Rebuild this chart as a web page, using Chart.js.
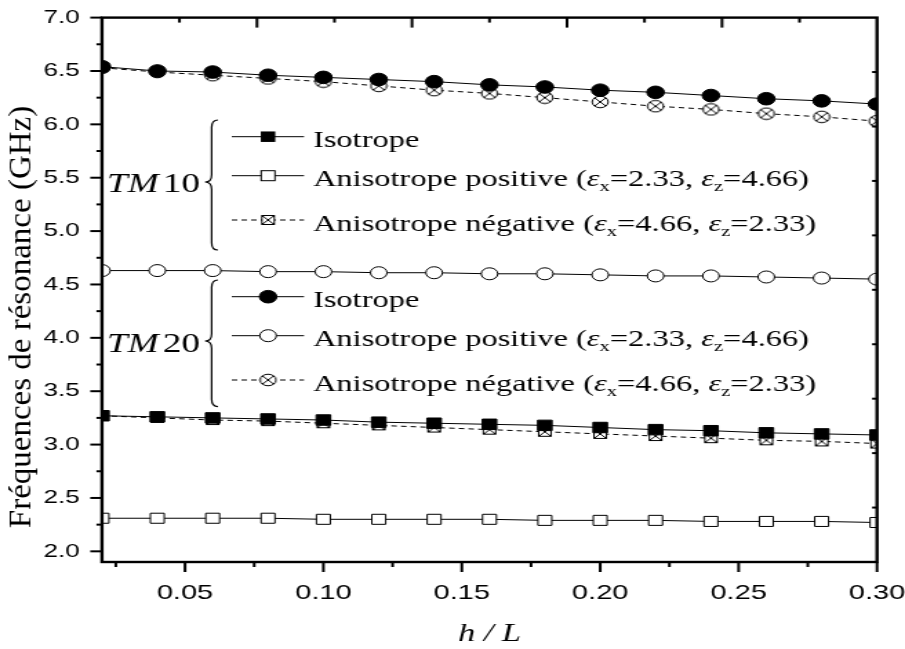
<!DOCTYPE html>
<html><head><meta charset="utf-8">
<script src="https://cdn.jsdelivr.net/npm/chart.js@4/dist/chart.umd.min.js"></script>
<style>
html,body{margin:0;padding:0;overflow:hidden;background:#fff}
#wrap{width:905px;height:649px;overflow:hidden}
canvas{display:block;transform:scaleX(1.3796);transform-origin:0 0}
</style>
</head><body><div id="wrap"><canvas id="c" width="656" height="649"></canvas></div>
<script>
// ---- data ----
const hOverL = [0.02,0.04,0.06,0.08,0.10,0.12,0.14,0.16,0.18,0.20,0.22,0.24,0.26,0.28,0.30];
const tm10Iso = [3.27,3.26,3.25,3.24,3.23,3.21,3.20,3.19,3.18,3.16,3.14,3.13,3.11,3.10,3.09];
const tm10Pos = [2.31,2.31,2.31,2.31,2.30,2.30,2.30,2.30,2.29,2.29,2.29,2.28,2.28,2.28,2.27];
const tm10Neg = [3.27,3.25,3.23,3.22,3.20,3.18,3.16,3.14,3.12,3.10,3.08,3.06,3.04,3.03,3.01];
const tm20Iso = [6.54,6.50,6.49,6.46,6.44,6.42,6.40,6.37,6.35,6.32,6.30,6.27,6.24,6.22,6.19];
const tm20Pos = [4.63,4.63,4.63,4.62,4.62,4.61,4.61,4.60,4.60,4.59,4.58,4.58,4.57,4.56,4.55];
const tm20Neg = [6.53,6.49,6.46,6.43,6.40,6.36,6.32,6.29,6.25,6.21,6.17,6.14,6.10,6.07,6.03];
const xTickValues = [0.05,0.10,0.15,0.20,0.25,0.30];
const xMinorValues = [0.025,0.075,0.125,0.175,0.225,0.275];
const yTickValues = [2.0,2.5,3.0,3.5,4.0,4.5,5.0,5.5,6.0,6.5,7.0];
const yMinorValues = [2.25,2.75,3.25,3.75,4.25,4.75,5.25,5.75,6.25,6.75];
const modeNames = ['10','20'];
const seriesNames = ['Isotrope','Anisotrope positive','Anisotrope négative'];
const posEps = ['2.33','4.66'];
const negEps = ['4.66','2.33'];
const yTitle = 'Fréquences de résonance (GHz)';
const xTitle = 'h / L';

const S = 1.3796;
const SERIF = "'Liberation Serif', 'Times New Roman', serif";
const SANS = "'Liberation Sans', Arial, sans-serif";

// ---- marker images ----
function crossSquare(){
  const c=document.createElement('canvas'); c.width=12; c.height=12;
  const g=c.getContext('2d'); g.fillStyle='#fff'; g.fillRect(1,1,10,10);
  g.strokeStyle='#000'; g.lineWidth=1; g.strokeRect(1.5,1.5,9,9);
  g.beginPath(); g.moveTo(1.5,1.5); g.lineTo(10.5,10.5); g.moveTo(10.5,1.5); g.lineTo(1.5,10.5); g.stroke();
  return c;
}
function crossCircle(){
  const c=document.createElement('canvas'); c.width=14; c.height=14;
  const g=c.getContext('2d'); g.fillStyle='#fff'; g.strokeStyle='#000'; g.lineWidth=1;
  g.beginPath(); g.arc(7,7,5.8,0,Math.PI*2); g.fill(); g.stroke();
  const d=5.8*0.7071;
  g.beginPath(); g.moveTo(7-d,7-d); g.lineTo(7+d,7+d); g.moveTo(7+d,7-d); g.lineTo(7-d,7+d); g.stroke();
  return c;
}
const xSq = crossSquare(), xCi = crossCircle();

function pts(arr){ return hOverL.map((x,i)=>({x:x,y:arr[i]})); }
function ds(label,arr,style,fill,radius,dashed){
  return {label:label,data:pts(arr),borderColor:'#000',borderWidth:1,borderDash:dashed?[4,3]:[],
    pointStyle:style,pointRadius:radius,pointBackgroundColor:fill,pointBorderColor:'#000',pointBorderWidth:1,
    showLine:true,fill:false,tension:0,clip:0};
}
const datasets = [
  ds('TM20 '+seriesNames[0],tm20Iso,'circle','#000',6.3,false),
  ds('TM10 '+seriesNames[0],tm10Iso,'rect','#000',7.4,false),
  ds('TM20 '+seriesNames[1],tm20Pos,'circle','#fff',6,false),
  ds('TM10 '+seriesNames[1],tm10Pos,'rect','#fff',7.1,false),
  ds('TM20 '+seriesNames[2],tm20Neg,xCi,'#fff',6,true),
  ds('TM10 '+seriesNames[2],tm10Neg,xSq,'#fff',6,true)
];

function line(ctx,x1,y1,x2,y2){ctx.beginPath();ctx.moveTo(x1,y1);ctx.lineTo(x2,y2);ctx.stroke();}

const framePlugin = {
  id:'frame',
  afterDatasetsDraw(chart){
    const {ctx,chartArea:a,scales:{x,y}} = chart;
    ctx.save(); ctx.strokeStyle='#000'; ctx.lineWidth=2;
    xTickValues.forEach(v=>{const p=x.getPixelForValue(v); line(ctx,p,a.bottom,p,a.bottom+10);});
    xMinorValues.forEach(v=>{const p=x.getPixelForValue(v); line(ctx,p,a.bottom,p,a.bottom+5);});
    yTickValues.forEach(v=>{const p=y.getPixelForValue(v); line(ctx,a.left-8.5,p,a.left,p);});
    yMinorValues.forEach(v=>{const p=y.getPixelForValue(v); line(ctx,a.left-4,p,a.left,p);});
    for(let i=1;i<10;i++){const p=a.left+i*a.width/10; line(ctx,p,a.top,p,a.top+(i%2===0?10:5));}
    for(let i=1;i<10;i++){const p=a.top+i*a.height/10; line(ctx,a.right-3.6,p,a.right,p);}
    ctx.lineWidth=2.4; ctx.strokeRect(a.left,a.top,a.width,a.height);
    ctx.restore();
  }
};

function drawMarker(ctx,kind,x,y){
  ctx.save(); ctx.lineWidth=1; ctx.strokeStyle='#000';
  if(kind==='fsq'){ctx.fillStyle='#000';ctx.fillRect(x-5.25,y-5.25,10.5,10.5);}
  else if(kind==='osq'){ctx.fillStyle='#fff';ctx.fillRect(x-5,y-5,10,10);ctx.strokeRect(x-5,y-5,10,10);}
  else if(kind==='xsq'){ctx.drawImage(xSq,x-6,y-6);}
  else if(kind==='fci'){ctx.fillStyle='#000';ctx.beginPath();ctx.arc(x,y,6.3,0,Math.PI*2);ctx.fill();ctx.stroke();}
  else if(kind==='oci'){ctx.fillStyle='#fff';ctx.beginPath();ctx.arc(x,y,6,0,Math.PI*2);ctx.fill();ctx.stroke();}
  else if(kind==='xci'){ctx.drawImage(xCi,x-7,y-7);}
  ctx.restore();
}
function drawRich(ctx,x,y,parts){
  parts.forEach(p=>{
    const size=p.sub?15:23.5;
    ctx.font=(p.it?'italic ':'')+size+'px '+SERIF;
    ctx.fillText(p.t,x,y+(p.sub?5:0));
    x+=ctx.measureText(p.t).width;
  });
}
function brace(ctx,xTip,xMid,xEnd,top,bottom,mid){
  const r=(xEnd-xMid)*1.6;
  ctx.beginPath();
  ctx.moveTo(xEnd,top);
  ctx.quadraticCurveTo(xMid,top,xMid,top+r);
  ctx.lineTo(xMid,mid-r);
  ctx.quadraticCurveTo(xMid,mid,xTip,mid);
  ctx.quadraticCurveTo(xMid,mid,xMid,mid+r);
  ctx.lineTo(xMid,bottom-r);
  ctx.quadraticCurveTo(xMid,bottom,xEnd,bottom);
  ctx.stroke();
}
const groups = [
  {mode:modeNames[0],rows:[136.7,175.7,220],tmBase:191.7,br:[120,250,182],kinds:['fsq','osq','xsq']},
  {mode:modeNames[1],rows:[296.7,335.7,380],tmBase:351.7,br:[280,406.7,341],kinds:['fci','oci','xci']}
];
const legendPlugin = {
  id:'customLegend',
  afterDraw(chart){
    const ctx=chart.ctx; ctx.save(); ctx.fillStyle='#000'; ctx.strokeStyle='#000'; ctx.textBaseline='alphabetic';
    groups.forEach(g=>{
      ctx.font='italic 27px '+SERIF; const w1=ctx.measureText('TM').width;
      ctx.font='27px '+SERIF; const w2=ctx.measureText(g.mode).width;
      const x0=145-(w1+3+w2);
      ctx.font='italic 27px '+SERIF; ctx.fillText('TM',x0,g.tmBase);
      ctx.font='27px '+SERIF; ctx.fillText(g.mode,x0+w1+3,g.tmBase);
      ctx.lineWidth=1.2; brace(ctx,148.6,153.4,158,g.br[0],g.br[1],g.br[2]);
      g.rows.forEach((ry,i)=>{
        ctx.lineWidth=1; ctx.setLineDash(i===2?[4,3]:[]);
        line(ctx,168,ry,220.4,ry); ctx.setLineDash([]);
        drawMarker(ctx,g.kinds[i],194.3,ry);
        let parts;
        if(i===0) parts=[{t:seriesNames[0]}];
        else { const e=i===1?posEps:negEps;
          parts=[{t:seriesNames[i]+' ('},{t:'ε',it:true},{t:'x',sub:true},{t:'='+e[0]+', '},{t:'ε',it:true},{t:'z',sub:true},{t:'='+e[1]+')'}]; }
        drawRich(ctx,226.9,ry+10.5,parts);
      });
    });
    ctx.save(); ctx.translate(16,317); ctx.scale(1/S,1); ctx.rotate(-Math.PI/2);
    ctx.font='33px '+SERIF; ctx.textAlign='center'; ctx.textBaseline='middle';
    ctx.fillText(yTitle,0,0); ctx.restore();
    ctx.restore();
  }
};

function zeroPad(s){ s.paddingTop=0; s.paddingBottom=0; s.paddingLeft=0; s.paddingRight=0; }

new Chart(document.getElementById('c'),{
  type:'line',
  data:{datasets:datasets},
  options:{
    responsive:false, devicePixelRatio:1, animation:false,
    layout:{padding:{top:17.6,right:20.3,left:0,bottom:0}},
    plugins:{legend:{display:false},tooltip:{enabled:false},title:{display:false}},
    scales:{
      x:{type:'linear',min:0.02,max:0.30,
        afterBuildTicks:s=>{s.ticks=xTickValues.map(v=>({value:v}));},
        afterFit:s=>{s.height=87; zeroPad(s);},
        ticks:{color:'#000',font:{family:SANS,size:21},padding:19,maxRotation:0,autoSkip:false,callback:v=>Number(v).toFixed(2)},
        grid:{display:false,drawTicks:false},border:{display:false},
        title:{display:true,text:xTitle,color:'#000',font:{family:SERIF,size:25,style:'italic'},padding:{top:0,bottom:0}}},
      y:{type:'linear',min:1.9,max:7.0,
        afterBuildTicks:s=>{s.ticks=yTickValues.map(v=>({value:v}));},
        afterFit:s=>{s.width=73.9; zeroPad(s);},
        ticks:{color:'#000',font:{family:SANS,size:19},padding:16,autoSkip:false,callback:v=>Number(v).toFixed(1)},
        grid:{display:false,drawTicks:false},border:{display:false}}
    }
  },
  plugins:[framePlugin,legendPlugin]
});
</script>
</body></html>
